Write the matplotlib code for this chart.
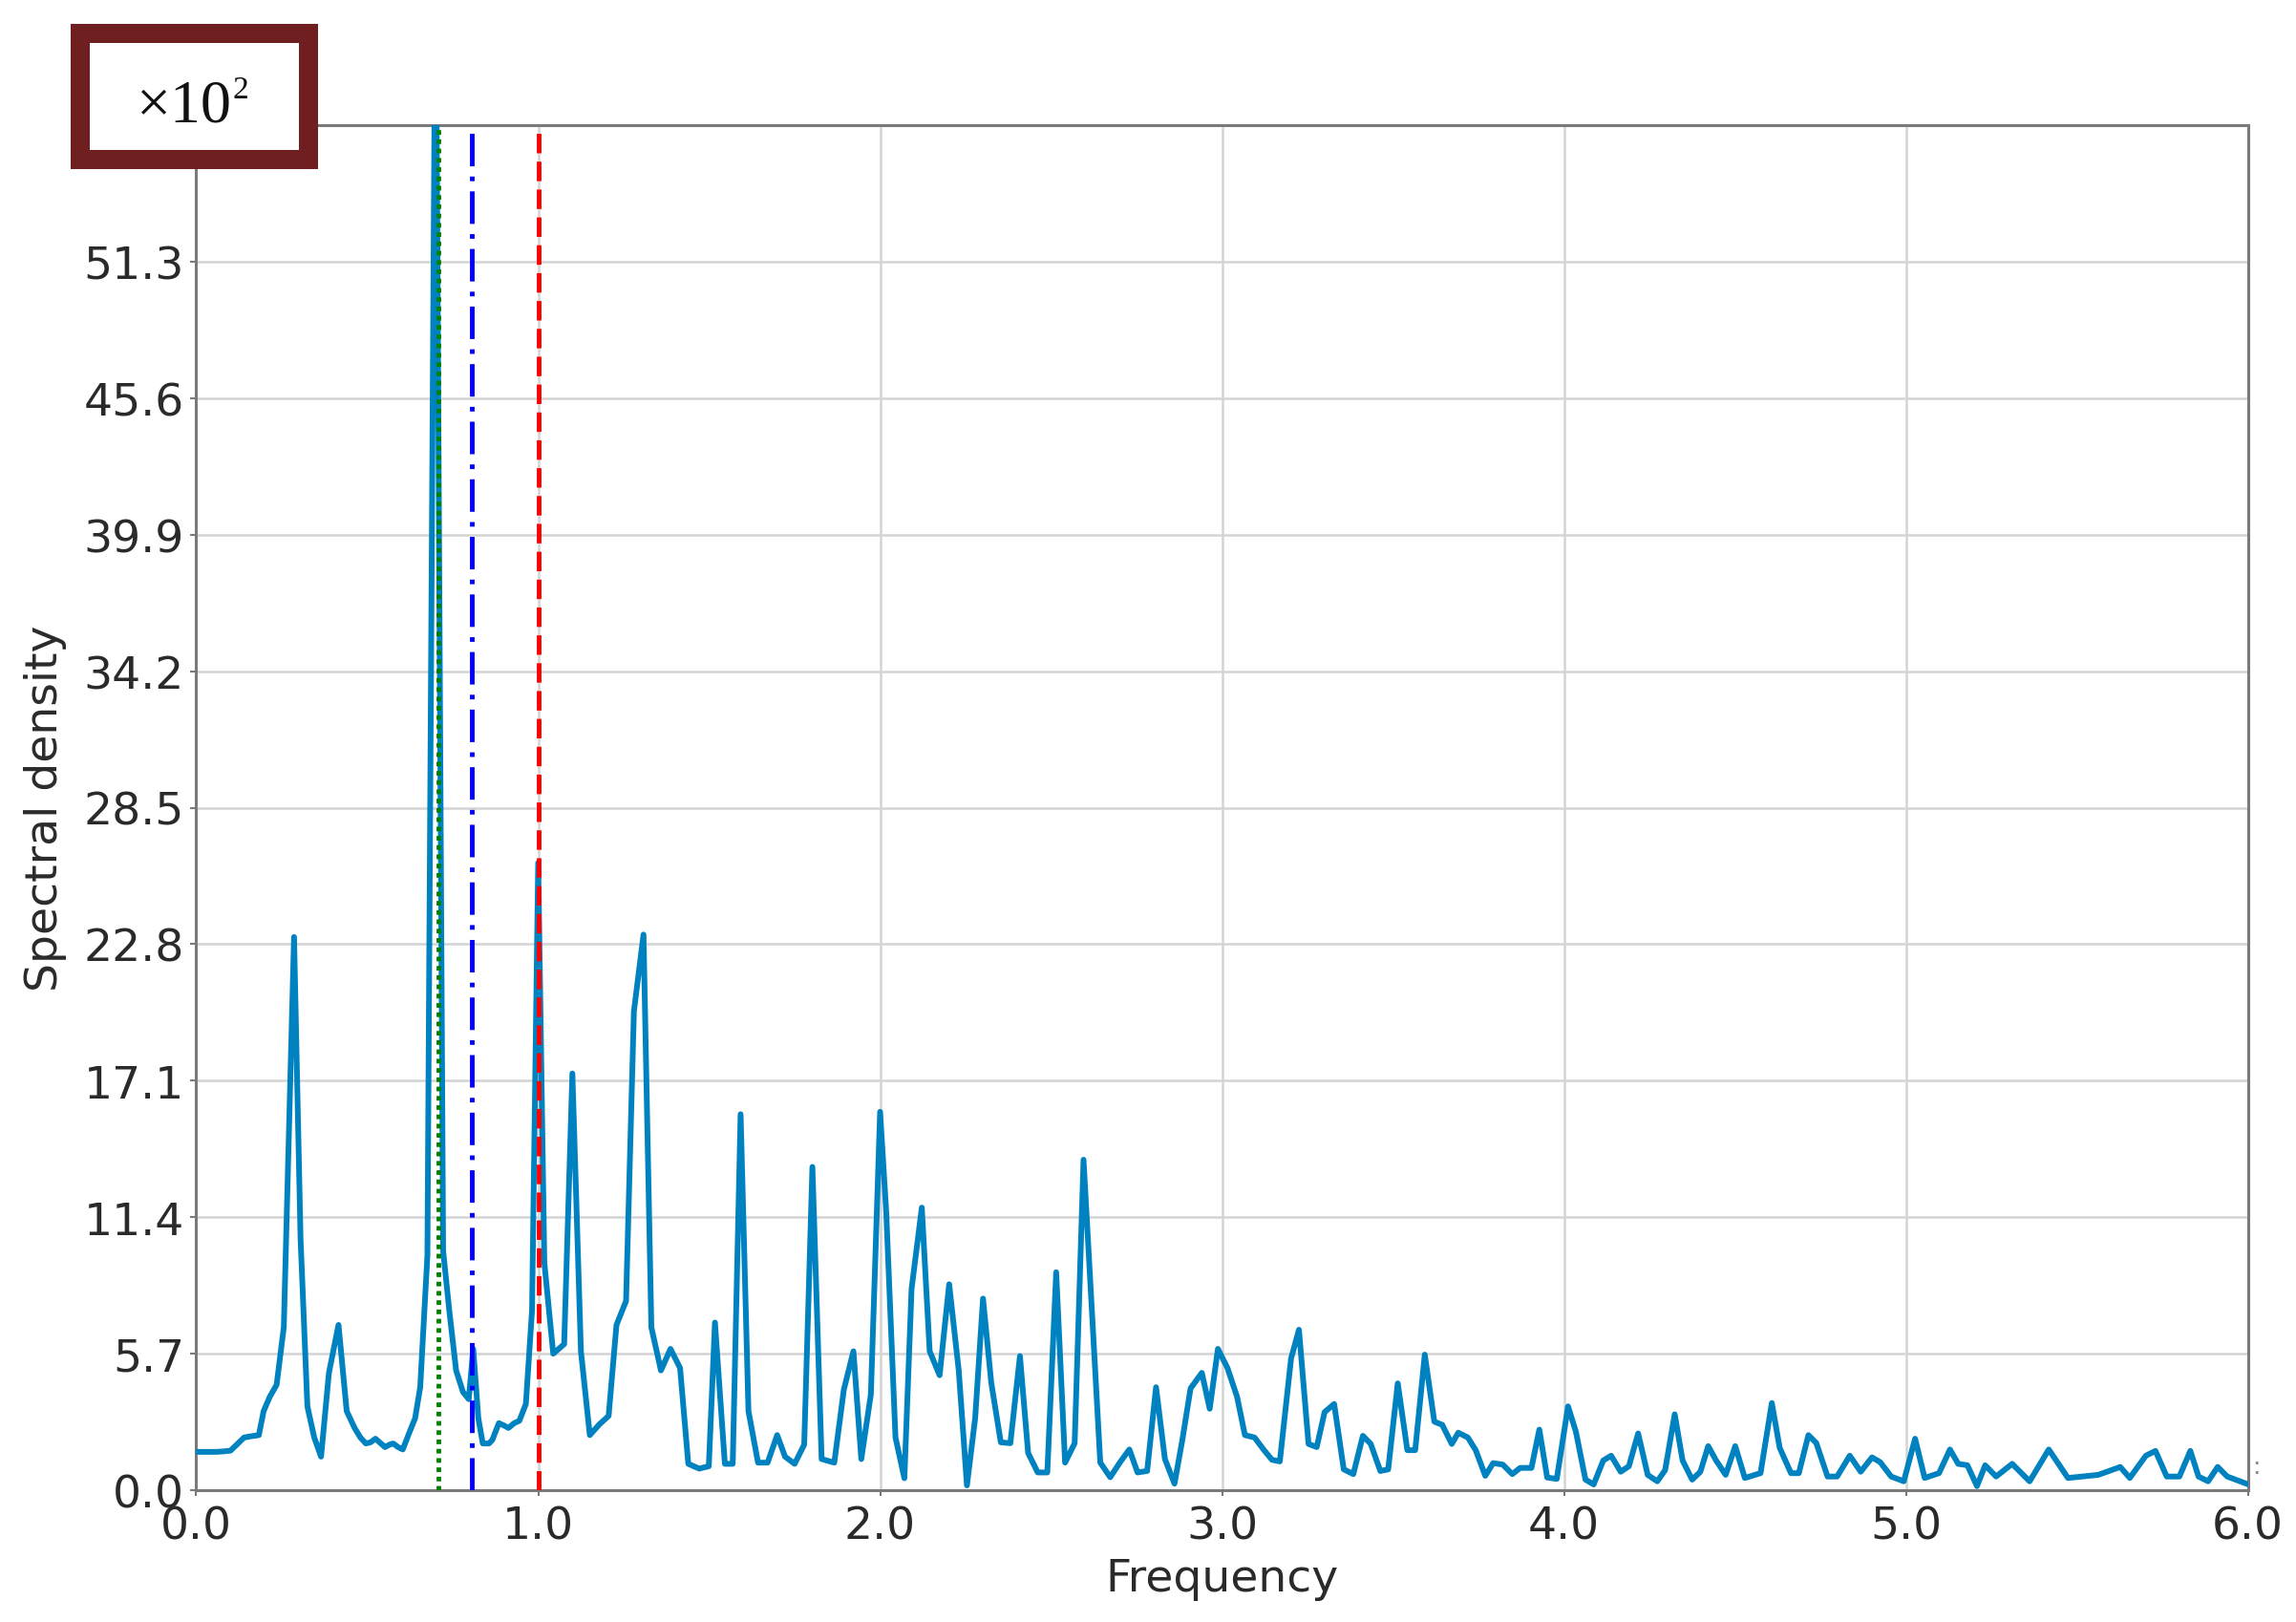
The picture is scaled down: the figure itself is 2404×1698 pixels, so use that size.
import matplotlib
matplotlib.use("Agg")
import matplotlib.pyplot as plt
from matplotlib.patches import Rectangle

# Spectral density (units of x10^2)
freq = [0.000, 0.020, 0.040, 0.060, 0.080, 0.100, 0.118, 0.140, 0.160, 0.183,
        0.197, 0.215, 0.235, 0.256, 0.286, 0.305, 0.325, 0.345, 0.365, 0.388,
        0.416, 0.440, 0.463, 0.480, 0.496, 0.510, 0.524, 0.540, 0.552, 0.565,
        0.576, 0.590, 0.604, 0.623, 0.640, 0.655, 0.676, 0.700, 0.722, 0.740,
        0.760, 0.780, 0.797, 0.810, 0.825, 0.838, 0.856, 0.866, 0.885, 0.900,
        0.913, 0.930, 0.945, 0.964, 0.982, 1.000, 1.018, 1.044, 1.076, 1.100,
        1.125, 1.151, 1.179, 1.206, 1.229, 1.257, 1.280, 1.308, 1.331, 1.359,
        1.387, 1.415, 1.439, 1.471, 1.499, 1.517, 1.546, 1.569, 1.592, 1.615,
        1.643, 1.671, 1.699, 1.722, 1.750, 1.778, 1.802, 1.829, 1.866, 1.894,
        1.922, 1.945, 1.973, 2.000, 2.018, 2.045, 2.071, 2.092, 2.122, 2.145,
        2.174, 2.202, 2.230, 2.254, 2.278, 2.301, 2.325, 2.353, 2.381, 2.409,
        2.433, 2.461, 2.489, 2.515, 2.541, 2.569, 2.595, 2.644, 2.673, 2.701,
        2.729, 2.753, 2.781, 2.807, 2.833, 2.861, 2.884, 2.908, 2.941, 2.964,
        2.988, 3.016, 3.044, 3.067, 3.095, 3.123, 3.146, 3.169, 3.202, 3.225,
        3.253, 3.277, 3.300, 3.328, 3.356, 3.384, 3.412, 3.435, 3.463, 3.486,
        3.514, 3.542, 3.565, 3.593, 3.621, 3.644, 3.672, 3.691, 3.719, 3.742,
        3.770, 3.793, 3.821, 3.849, 3.872, 3.905, 3.928, 3.951, 3.979, 4.012,
        4.035, 4.063, 4.087, 4.115, 4.138, 4.166, 4.190, 4.217, 4.245, 4.273,
        4.296, 4.324, 4.347, 4.375, 4.399, 4.422, 4.445, 4.473, 4.501, 4.529,
        4.575, 4.608, 4.631, 4.664, 4.687, 4.715, 4.738, 4.771, 4.799, 4.836,
        4.868, 4.901, 4.925, 4.957, 4.994, 5.027, 5.055, 5.097, 5.129, 5.153,
        5.180, 5.208, 5.232, 5.264, 5.311, 5.362, 5.418, 5.474, 5.516, 5.563,
        5.627, 5.655, 5.702, 5.730, 5.763, 5.800, 5.832, 5.856, 5.884, 5.912,
        5.940, 6.000]
density = [1.60, 1.60, 1.60, 1.60, 1.62, 1.65, 1.90, 2.20, 2.25, 2.30,
           3.30, 3.90, 4.40, 6.80, 23.1, 10.5, 3.50, 2.20, 1.40, 4.90,
           6.90, 3.30, 2.60, 2.20, 1.95, 2.00, 2.15, 1.95, 1.80, 1.90,
           1.95, 1.80, 1.70, 2.40, 3.00, 4.30, 9.80, 65.0, 10.0, 7.50,
           5.00, 4.10, 3.80, 5.90, 3.00, 1.95, 1.95, 2.10, 2.80, 2.70,
           2.60, 2.80, 2.90, 3.60, 7.50, 26.2, 9.50, 5.70, 6.10, 17.4,
           5.80, 2.30, 2.75, 3.10, 6.90, 7.90, 20.0, 23.2, 6.80, 5.00,
           5.90, 5.10, 1.10, 0.90, 1.00, 7.00, 1.10, 1.10, 15.7, 3.30,
           1.15, 1.15, 2.30, 1.40, 1.10, 1.90, 13.5, 1.30, 1.15, 4.20,
           5.80, 1.30, 4.00, 15.8, 11.6, 2.20, 0.50, 8.40, 11.8, 5.80,
           4.80, 8.60, 5.00, 0.20, 3.00, 8.00, 4.50, 2.00, 1.96, 5.60,
           1.55, 0.74, 0.74, 9.10, 1.15, 1.96, 13.8, 1.15, 0.54, 1.15,
           1.70, 0.74, 0.80, 4.30, 1.30, 0.27, 2.10, 4.25, 4.90, 3.40,
           5.90, 5.10, 3.90, 2.30, 2.20, 1.67, 1.27, 1.20, 5.50, 6.70,
           1.93, 1.80, 3.26, 3.60, 0.87, 0.67, 2.27, 1.93, 0.80, 0.87,
           4.46, 1.67, 1.67, 5.66, 2.86, 2.73, 1.93, 2.40, 2.20, 1.67,
           0.60, 1.13, 1.07, 0.67, 0.93, 0.93, 2.53, 0.53, 0.47, 3.50,
           2.44, 0.44, 0.24, 1.24, 1.44, 0.77, 1.00, 2.37, 0.64, 0.37,
           0.84, 3.17, 1.24, 0.44, 0.77, 1.84, 1.24, 0.64, 1.84, 0.51,
           0.71, 3.64, 1.77, 0.71, 0.71, 2.30, 1.97, 0.57, 0.57, 1.44,
           0.77, 1.37, 1.17, 0.57, 0.37, 2.15, 0.51, 0.71, 1.70, 1.10,
           1.04, 0.17, 1.04, 0.57, 1.10, 0.37, 1.70, 0.51, 0.57, 0.64,
           0.97, 0.51, 1.44, 1.64, 0.57, 0.57, 1.64, 0.57, 0.37, 0.97,
           0.57, 0.25]

ytick_values = [0.0, 5.7, 11.4, 17.1, 22.8, 28.5, 34.2, 39.9, 45.6, 51.3]
ytick_labels = ["0.0", "5.7", "11.4", "17.1", "22.8", "28.5", "34.2", "39.9", "45.6", "51.3"]
xtick_values = [0.0, 1.0, 2.0, 3.0, 4.0, 5.0, 6.0]
xtick_labels = ["0.0", "1.0", "2.0", "3.0", "4.0", "5.0", "6.0"]

green_freq = 0.707
blue_freq = 0.805
red_freq = 1.0

W, H = 2404, 1699
fig = plt.figure(figsize=(W / 100, H / 100), dpi=100)
ax = fig.add_axes([205.5 / W, 1 - 1561 / H, 2148 / W, 1429 / H])

ax.plot(freq, density, color="#0082c0", lw=4.3, zorder=3)
ax.axvline(green_freq, color="#008000", lw=3.5, dashes=(1.0, 1.0), zorder=4)
ax.axvline(blue_freq, color="#0000ff", lw=3.5, dashes=(7, 2.2, 1, 2.2), zorder=4)
ax.axvline(red_freq, color="#ff0000", lw=3.5, dashes=(4.2, 1.8), zorder=4)

ax.set_xlim(0, 6)
ax.set_ylim(0, 57.0)
ax.set_xticks(xtick_values)
ax.set_xticklabels(xtick_labels)
ax.set_yticks(ytick_values)
ax.set_yticklabels(ytick_labels)
ax.grid(True, color="#d4d4d4", lw=1.8, zorder=0)
ax.set_axisbelow(True)

for s in ax.spines.values():
    s.set_color("#7a7a7a")
    s.set_linewidth(2.2)

ax.tick_params(axis="both", labelsize=34, colors="#7a7a7a", labelcolor="#2a2a2a",
               length=4, width=1.5)
ax.tick_params(axis="x", pad=7)
ax.tick_params(axis="y", pad=5)

ax.set_xlabel("Frequency", fontsize=34, color="#2a2a2a")
ax.set_ylabel("Spectral density", fontsize=34, color="#2a2a2a")
ax.xaxis.set_label_coords(0.5, -0.049)
ax.yaxis.set_label_coords(-0.063, 0.5)

# x10^2 box at top-left
lw_px = 20
rect = Rectangle(((74 + lw_px / 2) / W, 1 - (178 - lw_px / 2) / H),
                 (333 - 74 - lw_px) / W, (178 - 26 - lw_px) / H,
                 transform=fig.transFigure, facecolor="white",
                 edgecolor="#6f1f1f", linewidth=lw_px * 0.72, zorder=5)
fig.add_artist(rect)
fig.text(193 / W, 1 - 112 / H, "\u00d710", family="Liberation Serif",
         fontsize=46, ha="center", va="center", color="#111111", zorder=6)
fig.text(252 / W, 1 - 95 / H, "2", family="Liberation Serif",
         fontsize=24, ha="center", va="center", color="#111111", zorder=6)

fig.text(2362 / W, 1 - 1536 / H, ":", fontsize=18, color="#888888",
         ha="center", va="center")

fig.savefig("out.png", dpi=100)
